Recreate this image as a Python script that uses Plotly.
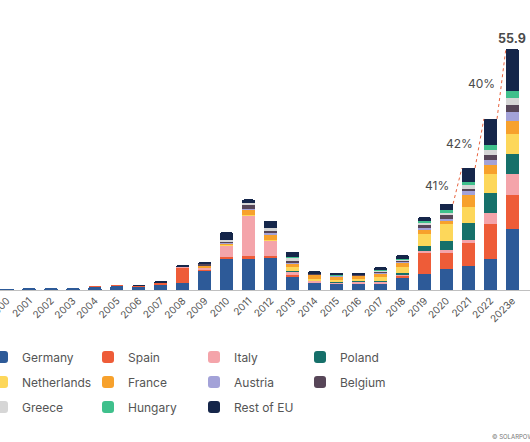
import plotly.graph_objects as go

years = ['2000', '2001', '2002', '2003', '2004', '2005', '2006', '2007', '2008', '2009',
         '2010', '2011', '2012', '2013', '2014', '2015', '2016', '2017', '2018', '2019',
         '2020', '2021', '2022', '2023e']

germany     = [0.1, 0.3, 0.3, 0.35, 0.75, 0.95, 0.8, 1.2, 1.7, 4.5, 7.3, 7.3, 7.6, 3.2, 1.8, 1.5, 1.5, 1.5, 2.9, 3.7, 4.8, 5.6, 7.3, 14.1]
spain       = [0, 0, 0, 0, 0.02, 0.05, 0.15, 0.6, 3.6, 0.2, 0.4, 0.5, 0.3, 0.2, 0.05, 0.05, 0.1, 0.1, 0.4, 4.9, 3.9, 5.2, 8.1, 8.0]
italy       = [0, 0, 0, 0, 0, 0, 0, 0.05, 0.2, 0.6, 2.6, 9.5, 3.5, 1.0, 0.35, 0.3, 0.4, 0.4, 0.3, 0.5, 0.5, 0.9, 2.5, 4.9]
poland      = [0, 0, 0, 0, 0, 0, 0, 0, 0, 0, 0, 0, 0, 0.05, 0.05, 0.05, 0.05, 0.1, 0.4, 1.1, 2.1, 3.9, 4.7, 4.6]
netherlands = [0, 0, 0, 0, 0, 0, 0, 0, 0, 0, 0.1, 0.1, 0.3, 0.9, 0.4, 0.5, 0.6, 0.9, 1.4, 2.9, 3.9, 3.6, 4.2, 4.6]
france      = [0, 0, 0, 0, 0, 0, 0, 0, 0, 0.2, 0.5, 1.3, 1.2, 0.8, 0.9, 0.7, 0.6, 0.9, 0.9, 0.9, 0.8, 2.9, 2.3, 2.9]
austria     = [0, 0, 0, 0, 0, 0, 0, 0, 0, 0, 0.05, 0.2, 0.3, 0.25, 0.15, 0.15, 0.15, 0.2, 0.3, 0.5, 0.5, 0.8, 1.0, 2.1]
belgium     = [0, 0, 0, 0, 0, 0, 0, 0, 0, 0.5, 0.4, 0.9, 0.6, 0.3, 0.1, 0.1, 0.15, 0.3, 0.3, 0.5, 0.8, 0.6, 1.2, 1.8]
greece      = [0, 0, 0, 0, 0, 0, 0, 0, 0, 0, 0.15, 0.4, 0.6, 0.85, 0.05, 0.05, 0.05, 0.1, 0.2, 0.5, 0.6, 0.8, 1.2, 1.5]
hungary     = [0, 0, 0, 0, 0, 0, 0, 0, 0, 0, 0, 0, 0, 0.05, 0.05, 0.05, 0.1, 0.2, 0.2, 0.5, 0.6, 0.8, 1.2, 1.7]
rest_of_eu  = [0, 0, 0, 0, 0, 0, 0.1, 0.1, 0.15, 0.6, 1.9, 0.8, 1.7, 1.3, 0.45, 0.6, 0.3, 0.6, 0.8, 0.9, 1.5, 3.2, 6.0, 9.7]

series_names = ['Germany', 'Spain', 'Italy', 'Poland', 'Netherlands', 'France',
                'Austria', 'Belgium', 'Greece', 'Hungary', 'Rest of EU']
series_values = [germany, spain, italy, poland, netherlands, france,
                 austria, belgium, greece, hungary, rest_of_eu]
series_colors = ['#2d5a98', '#ee5c38', '#f4a4aa', '#16706a', '#fdd75a', '#f7a12c',
                 '#a3a2d8', '#574658', '#d6d6d6', '#3fc08c', '#15264a']

growth_labels = ['41%', '42%', '40%']   # growth into 2021, 2022, 2023e
growth_years = ['2021', '2022', '2023e']

FONT = 'Inter'
TXT = '#4a4a4a'
xs = list(range(len(years)))
bar_w = 0.6

fig = go.Figure()
legend_ids = ['legend', 'legend', 'legend', 'legend',
              'legend2', 'legend2', 'legend2', 'legend2',
              'legend3', 'legend3', 'legend3']
for name, vals, col, lg in zip(series_names, series_values, series_colors, legend_ids):
    fig.add_trace(go.Bar(x=xs, y=vals, name=name, marker_color=col,
                         marker_line_width=0, width=bar_w, legend=lg))

totals = [sum(v[i] for v in series_values) for i in range(len(years))]

annotations = []
shapes = []
for lab, yr in zip(growth_labels, growth_years):
    i = years.index(yr)
    x0, y0 = xs[i - 1] + bar_w / 2, totals[i - 1]
    x1, y1 = xs[i] - bar_w / 2, totals[i]
    shapes.append(dict(type='line', xref='x', yref='y', x0=x0, y0=y0, x1=x1, y1=y1,
                       line=dict(color='#e8643f', width=1, dash='dot')))
    annotations.append(dict(x=(x0 + x1) / 2, y=(y0 + y1) / 2, xref='x', yref='y',
                            text=lab, showarrow=False, xshift=-20,
                            font=dict(family=FONT, size=12, color=TXT)))

annotations.append(dict(x=xs[-1], y=totals[-1], xref='x', yref='y',
                        text='<b>%.1f</b>' % totals[-1], showarrow=False,
                        yanchor='bottom', yshift=1,
                        font=dict(family=FONT, size=12.5, color=TXT)))
annotations.append(dict(x=490 / 530, y=-0.585, xref='paper', yref='paper',
                        text='© SOLARPOWER EUROPE', showarrow=False,
                        xanchor='left', yanchor='middle',
                        font=dict(family=FONT, size=6, color='#777')))

legend_common = dict(orientation='h', xanchor='left', yanchor='middle',
                     x=-18 / 530, entrywidth=61, entrywidthmode='pixels',
                     font=dict(family=FONT, size=12, color='#555'),
                     bgcolor='rgba(0,0,0,0)', traceorder='normal')

fig.update_layout(
    width=530, height=442,
    margin=dict(l=0, r=0, t=40, b=152, autoexpand=False),
    paper_bgcolor='white', plot_bgcolor='white',
    barmode='stack', barcornerradius=2,
    font=dict(family=FONT, color=TXT),
    xaxis=dict(range=[-0.32, 23.8], tickmode='array', tickvals=xs, ticktext=years,
               tickangle=-45, tickfont=dict(family=FONT, size=10, color='#555'),
               showgrid=False, zeroline=False, showline=True, linecolor='#c0c0c0',
               linewidth=1, ticks='', automargin=False, ticklabeloverflow='allow'),
    yaxis=dict(range=[0, 58], visible=False, showgrid=False, zeroline=False),
    shapes=shapes,
    annotations=annotations,
    legend=dict(**legend_common, y=-0.268),
    legend2=dict(**legend_common, y=-0.368),
    legend3=dict(**legend_common, y=-0.468),
    showlegend=True,
)

fig.write_html('out.html', config={'displayModeBar': False},
               post_script="document.body.style.margin='0';")
